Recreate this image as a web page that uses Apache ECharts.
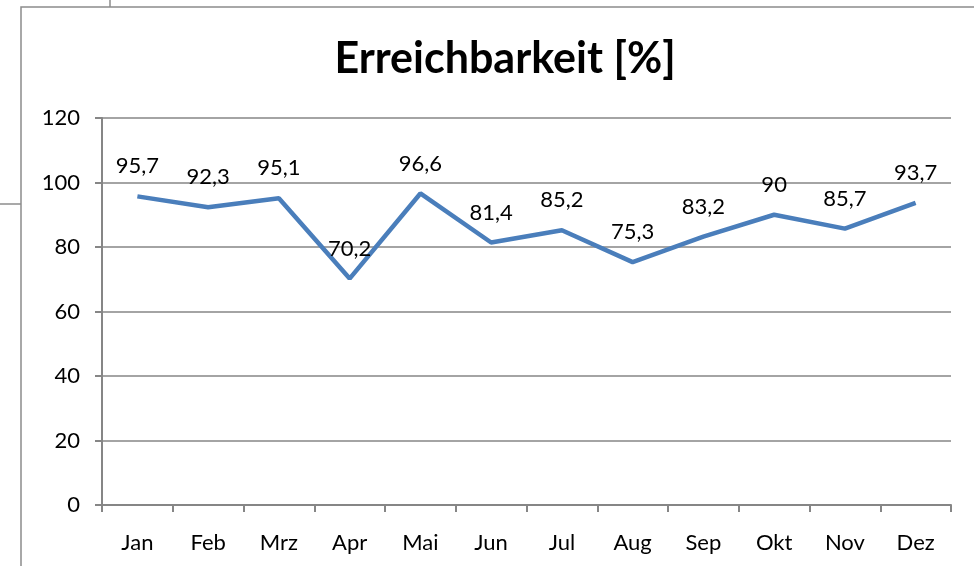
<!DOCTYPE html>
<html><head><meta charset="utf-8">
<script src="https://cdn.jsdelivr.net/npm/echarts@6/dist/echarts.min.js"></script>
<style>html,body{margin:0;padding:0;background:#fff}#c{width:974px;height:566px}</style>
</head><body><div id="c"></div>
<script>
const categories = ['Jan','Feb','Mrz','Apr','Mai','Jun','Jul','Aug','Sep','Okt','Nov','Dez'];
const values = [95.7, 92.3, 95.1, 70.2, 96.6, 81.4, 85.2, 75.3, 83.2, 90, 85.7, 93.7];
const titleText = 'Erreichbarkeit [%]';
const yMin = 0, yMax = 120, yStep = 20;

const chart = echarts.init(document.getElementById('c'), null, {renderer:'canvas'});
const FONT = 'Lato';
chart.setOption({
  animation: false,
  title: {
    text: titleText, left: 500, top: 33, textAlign: 'center',
    textStyle: {fontFamily: FONT, fontWeight: 'bold', fontSize: 43, color: '#000'}
  },
  graphic: [
    {type:'rect', shape:{x:21, y:7, width:1200, height:1200}, style:{fill:'none', stroke:'#8c8c8c', lineWidth:1.5}, z:-1},
    {type:'line', shape:{x1:110, y1:0, x2:110, y2:7}, style:{stroke:'#8c8c8c', lineWidth:1.5}},
    {type:'line', shape:{x1:0, y1:204, x2:21, y2:204}, style:{stroke:'#8c8c8c', lineWidth:1.5}}
  ],
  grid: {left: 102, right: 23, top: 118, bottom: 61},
  xAxis: {
    type: 'category', data: categories, boundaryGap: true,
    axisLine: {lineStyle: {color: '#868686', width: 2}},
    axisTick: {show: true, length: 7, lineStyle: {color: '#868686', width: 2}},
    axisLabel: {fontFamily: FONT, fontSize: 22, color: '#000', margin: 27}
  },
  yAxis: {
    type: 'value', min: yMin, max: yMax, interval: yStep,
    axisLine: {show: true, lineStyle: {color: '#868686', width: 2}},
    axisTick: {show: true, length: 7, lineStyle: {color: '#868686', width: 2}},
    splitLine: {lineStyle: {color: '#868686', width: 1.5}},
    axisLabel: {fontFamily: FONT, fontSize: 22, color: '#000', margin: 22}
  },
  series: [{
    type: 'line', data: values,
    symbol: 'circle', symbolSize: 0.01, showSymbol: true,
    lineStyle: {color: '#4A7EBB', width: 4.5},
    itemStyle: {color: '#4A7EBB'},
    label: {show: true, position: 'top', distance: 19, fontFamily: FONT, fontSize: 22, color: '#000',
      formatter: p => String(p.value).replace('.', ',')}
  }]
});
</script></body></html>
